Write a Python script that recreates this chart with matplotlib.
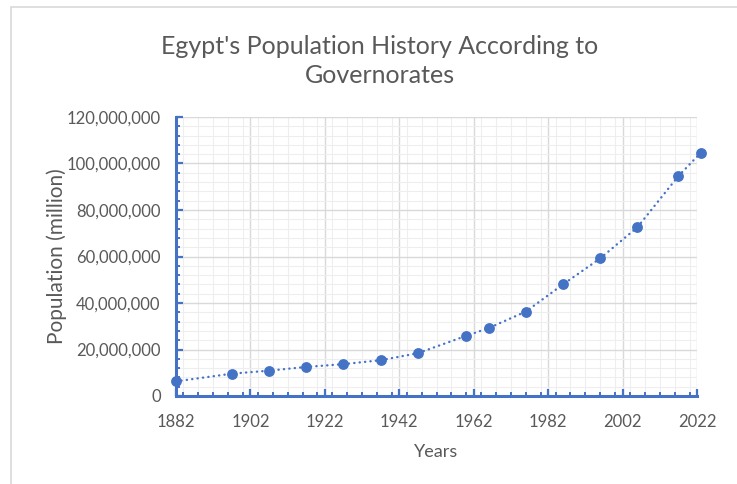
"""Egypt population by census year, drawn as a dotted scatter line."""

import matplotlib
import numpy as np

matplotlib.use("Agg")
from matplotlib import pyplot as plt  # noqa: E402
from matplotlib.ticker import FuncFormatter, MultipleLocator  # noqa: E402

years = [1882, 1897, 1907, 1917, 1927, 1937, 1947, 1960, 1966, 1976, 1986, 1996, 2006, 2017, 2023]
population = [
    6.3e6, 9.6e6, 10.9e6, 12.5e6, 13.7e6, 15.4e6, 18.4e6, 25.9e6,
    29.2e6, 36.3e6, 48.0e6, 59.2e6, 72.6e6, 94.6e6, 104.6e6,
]
x_ticks = [1882, 1902, 1922, 1942, 1962, 1982, 2002, 2022]

title = "Egypt's Population History According to\nGovernorates"
x_label = "Years"
y_label = "Population (million)"

BLUE = "#4472C4"
TEXT = "#595959"

plt.rcParams["font.family"] = ["Lato", "DejaVu Sans"]

fig = plt.figure(figsize=(7.37, 4.84), dpi=100)

# light frame of the chart area
frame = plt.Rectangle((11 / 737, -0.1), 1.2, 1 - 7 / 484 + 0.1, transform=fig.transFigure,
                      fill=False, edgecolor="#D9D9D9", linewidth=1.2)
fig.patches.append(frame)

ax = fig.add_axes([176 / 737, 1 - 396 / 484, (697 - 176) / 737, (396 - 117) / 484])

ax.plot(years, population, linestyle=(0, (0.1, 2.2)), dash_capstyle="round", linewidth=1.7,
        color=BLUE, marker="o", markersize=7.8, markeredgewidth=0, clip_on=False, zorder=3)

ax.set_xlim(1882, 2022)
ax.set_ylim(0, 120e6)
ax.set_xticks(x_ticks)
ax.xaxis.set_minor_locator(MultipleLocator(4))
ax.yaxis.set_major_locator(MultipleLocator(20e6))
ax.yaxis.set_minor_locator(MultipleLocator(4e6))
ax.yaxis.set_major_formatter(FuncFormatter(lambda v, _: f"{v:,.0f}"))

ax.grid(which="major", color="#D9D9D9", linewidth=1.0)
ax.grid(which="minor", color="#EEEEEE", linewidth=0.8)
ax.set_axisbelow(True)

for side in ("top", "right"):
    ax.spines[side].set_visible(False)
for side in ("left", "bottom"):
    ax.spines[side].set_color(BLUE)
    ax.spines[side].set_linewidth(2.2)

ax.tick_params(which="major", direction="in", length=5, width=1.6, color=BLUE,
               labelsize=12, labelcolor=TEXT)
ax.tick_params(which="minor", direction="in", length=3, width=1.4, color=BLUE)
ax.tick_params(axis="x", pad=13)
ax.tick_params(axis="y", pad=11)

ax.set_xlabel(x_label, fontsize=13, color=TEXT, labelpad=10)
ax.set_ylabel(y_label, fontsize=15, color=TEXT, labelpad=0)

fig.text(380 / 737, 1 - 61 / 484, title, ha="center", va="center", fontsize=18,
         color=TEXT, linespacing=1.3)

fig.savefig("out.png", dpi=100)
plt.close(fig)
